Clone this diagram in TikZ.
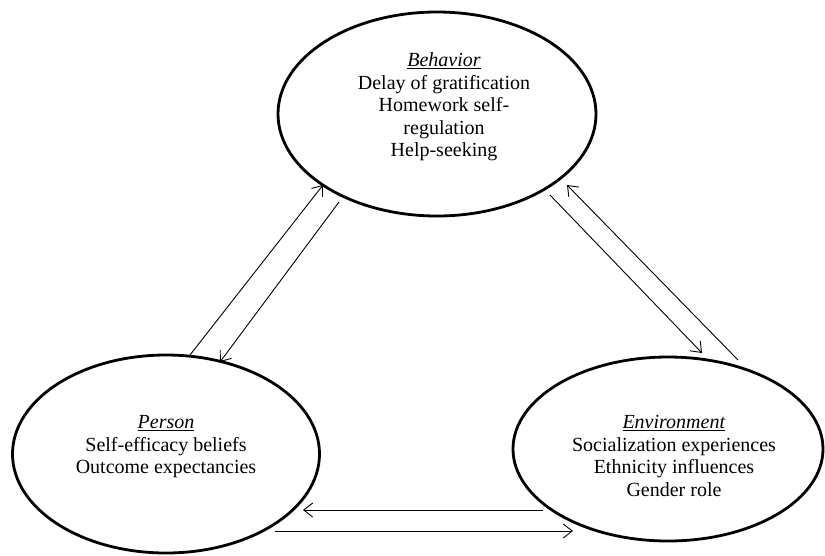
\documentclass[tikz,border=0pt]{standalone}
\usepackage{fontspec}
\setmainfont{Liberation Serif}
\usetikzlibrary{shapes.geometric,arrows.meta}
\begin{document}
\begin{tikzpicture}[x=1pt,y=-1pt,
  oval/.style={draw, ellipse, line width=2.8pt, inner sep=0pt},
  label/.style={align=center, font=\fontsize{20}{22.5}\selectfont, inner sep=0pt},
  link/.style={line width=0.9pt, -{Straight Barb[length=9pt,width=14pt,line width=0.9pt]}}]
\useasboundingbox (0,0) rectangle (825,555);
% ellipses
\node[oval, minimum width=318pt, minimum height=204pt] (beh) at (437,114) {};
\node[oval, minimum width=307pt, minimum height=198pt] (per) at (166,454) {};
\node[oval, minimum width=310pt, minimum height=184pt] (env) at (668,449) {};
% texts
\node[label] (behtext) at (444,107) {\underline{\textit{Behavior}}\\Delay of gratification\\Homework self-\\regulation\\Help-seeking};
\node[label] (pertext) at (166,447) {\underline{\textit{Person}}\\Self-efficacy beliefs\\Outcome expectancies};
\node[label] (envtext) at (674,456) {\underline{\textit{Environment}}\\Socialization experiences\\Ethnicity influences\\Gender role};
% connector end points
\coordinate (pbS) at (190,355);
\coordinate (pbE) at (323,185);
\coordinate (bpS) at (339,202);
\coordinate (bpE) at (220,362);
\coordinate (beS) at (550,195);
\coordinate (beE) at (702,353);
\coordinate (ebS) at (738,360);
\coordinate (ebE) at (567,185);
\coordinate (epS) at (543,510);
\coordinate (epE) at (303,510);
\coordinate (peS) at (275,531);
\coordinate (peE) at (573,531);
% connectors
\draw[link] (pbS) -- (pbE);
\draw[link] (bpS) -- (bpE);
\draw[link] (beS) -- (beE);
\draw[link] (ebS) -- (ebE);
\draw[link] (epS) -- (epE);
\draw[link] (peS) -- (peE);
\end{tikzpicture}
\end{document}
